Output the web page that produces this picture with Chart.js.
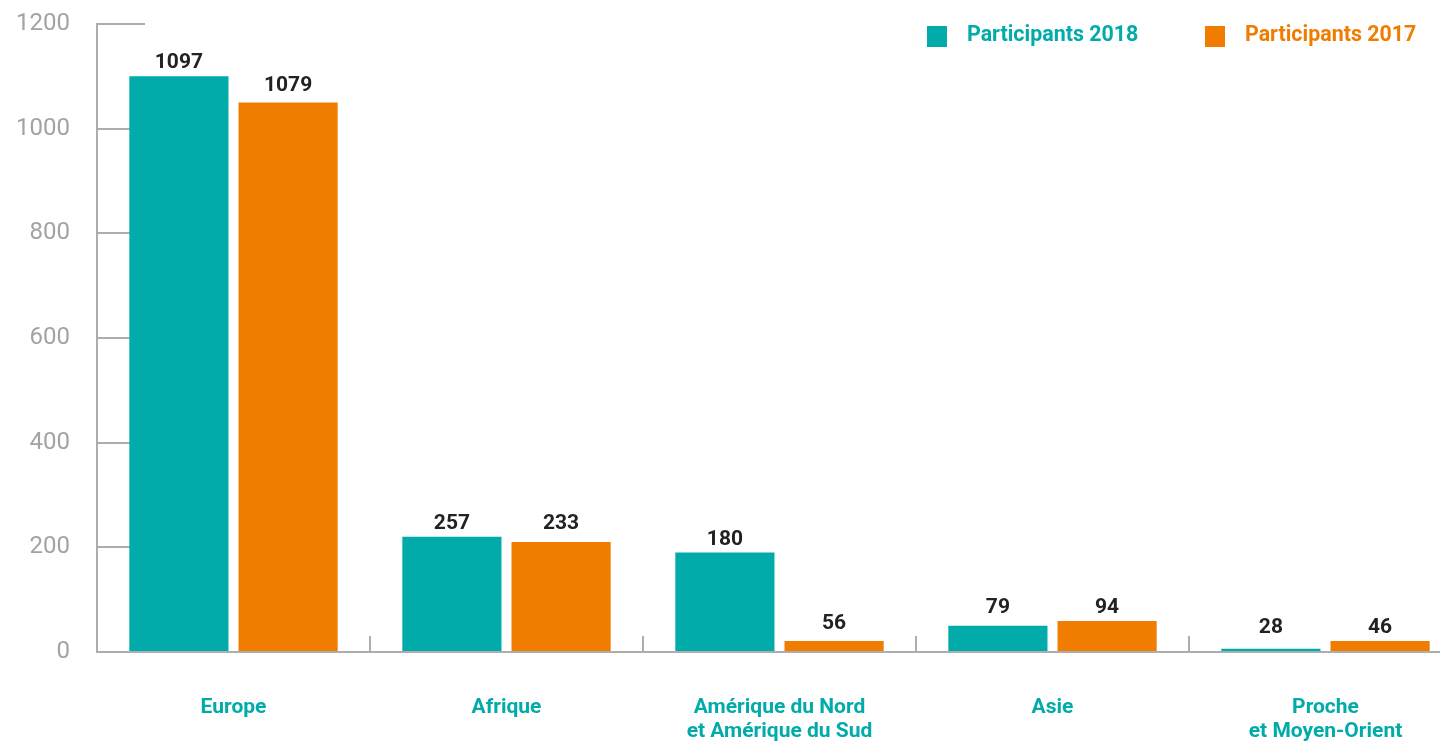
<!DOCTYPE html>
<html>
<head>
<meta charset="utf-8">
<script src="https://cdn.jsdelivr.net/npm/chart.js@4/dist/chart.umd.min.js"></script>
<style>
  html, body { margin: 0; padding: 0; background: #fff; overflow: hidden; }
  #wrap { width: 1462px; height: 742px; }
</style>
</head>
<body>
<div id="wrap"><canvas id="Region_Chart" width="1462" height="742"></canvas></div>
<script>
// régions
const categories = ['Europe', 'Afrique', ['Amérique du Nord', 'et Amérique du Sud'], 'Asie', ['Proche', 'et Moyen-Orient']];
// hauteur des barres
const bars2018 = [1100, 220, 190, 50, 6];
const bars2017 = [1050, 210, 21, 59, 21];
// nombres affichés au-dessus des barres
const labels2018 = ['1097', '257', '180', '79', '28'];
const labels2017 = ['1079', '233', '56', '94', '46'];
const seriesNames = ['Participants 2018', 'Participants 2017'];
const yTicks = [0, 200, 400, 600, 800, 1000, 1200];

const TEAL = '#00aba9';
const ORANGE = '#f07d00';
const GREY = '#adadad';

// chiffres au-dessus des barres
const valueLabels = {
  id: 'valueLabels',
  afterDatasetsDraw(chart) {
    const ctx = chart.ctx;
    const m0 = chart.getDatasetMeta(0).data;
    const m1 = chart.getDatasetMeta(1).data;
    ctx.save();
    ctx.font = 'bold 21px Roboto';
    ctx.fillStyle = '#222';
    ctx.textAlign = 'center';
    ctx.textBaseline = 'alphabetic';
    for (let i = 0; i < categories.length; i++) {
      let y0 = m0[i].y, y1 = m1[i].y;
      let gap0 = 8, gap1 = 8;
      if (Math.abs(y0 - y1) < 20) {
        y0 = y1 = Math.min(y0, y1);
      } else {
        // la barre la plus basse a un écart un peu plus grand
        if (y0 > y1) gap0 = 12; else gap1 = 12;
      }
      ctx.fillText(labels2018[i], m0[i].x, y0 - gap0);
      ctx.fillText(labels2017[i], m1[i].x, y1 - gap1);
    }
    ctx.restore();
  }
};

// légende en haut à droite
const topLegend = {
  id: 'topLegend',
  afterDraw(chart) {
    const ctx = chart.ctx;
    const items = [
      {text: seriesNames[0], color: TEAL, x: 927},
      {text: seriesNames[1], color: ORANGE, x: 1205}
    ];
    ctx.save();
    ctx.font = 'bold 21.4px Roboto';
    ctx.textBaseline = 'middle';
    ctx.textAlign = 'left';
    items.forEach(function(it){
      ctx.fillStyle = it.color;
      ctx.fillRect(it.x, 26, 20, 21);
      ctx.fillText(it.text, it.x + 40, 36);
    });
    ctx.restore();
  }
};

new Chart(document.getElementById('Region_Chart').getContext('2d'), {
  type: 'bar',
  data: {
    labels: categories,
    datasets: [{
      label: seriesNames[0],
      data: bars2018,
      backgroundColor: TEAL,
      categoryPercentage: 0.8,
      barPercentage: 0.908
    }, {
      label: seriesNames[1],
      data: bars2017,
      backgroundColor: ORANGE,
      categoryPercentage: 0.8,
      barPercentage: 0.908
    }]
  },
  options: {
    responsive: false,
    animation: false,
    devicePixelRatio: 1,
    layout: { padding: { top: 24, right: 0, bottom: 0, left: 0 } },
    plugins: {
      legend: { display: false },
      tooltip: { enabled: false }
    },
    scales: {
      x: {
        offset: true,
        grid: {
          offset: true,
          drawOnChartArea: false,
          drawTicks: true,
          tickLength: -16,
          color: GREY,
          lineWidth: 2
        },
        border: { display: true, color: GREY, width: 2 },
        ticks: {
          color: TEAL,
          font: { family: 'Roboto', weight: 'bold', size: 21, lineHeight: 24 / 21 },
          padding: 60,
          autoSkip: false,
          maxRotation: 0
        },
        afterFit: function(s){ s.height = 90; s.paddingLeft = 0; s.paddingRight = 0; }
      },
      y: {
        min: 0,
        max: 1200,
        afterBuildTicks: function(s){ s.ticks = yTicks.map(v => ({value: v})); },
        grid: {
          drawOnChartArea: false,
          drawTicks: true,
          tickLength: -48,
          color: GREY,
          lineWidth: 2
        },
        border: { display: true, color: GREY, width: 2 },
        ticks: {
          color: '#a3a3a3',
          font: { family: 'Roboto', size: 24 },
          padding: 75,
          callback: function(v){ return String(v); }
        },
        afterFit: function(s){ s.width = 97; s.paddingTop = 0; s.paddingBottom = 0; }
      }
    }
  },
  plugins: [valueLabels, topLegend]
});
</script>
</body>
</html>
